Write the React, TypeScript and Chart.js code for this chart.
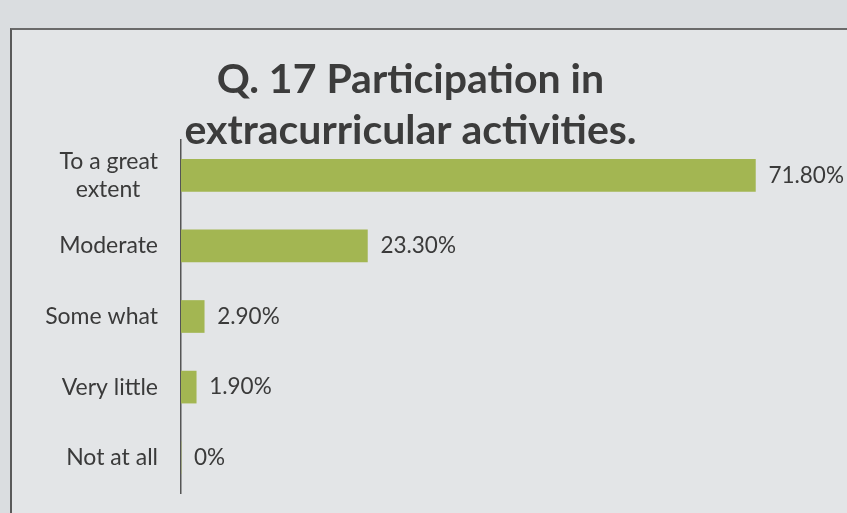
import React, { useEffect, useRef } from "react";
import { Chart, registerables } from "chart.js";

Chart.register(...registerables);

const categories: (string | string[])[] = [
  ["To a great", "extent   "],
  "Moderate",
  "Some what",
  "Very little",
  "Not at all",
];
const values: number[] = [71.8, 23.3, 2.9, 1.9, 0];
const valueLabels: string[] = ["71.80%", "23.30%", "2.90%", "1.90%", "0%"];
const titleLines: string[] = ["Q. 17 Participation in", "extracurricular activities."];

const FONT = "Lato, 'Open Sans', sans-serif";

const valueLabelPlugin = {
  id: "valueLabels",
  afterDatasetsDraw(chart: any) {
    const ctx = chart.ctx;
    const meta = chart.getDatasetMeta(0);
    ctx.save();
    ctx.font = `22.5px ${FONT}`;
    ctx.fillStyle = "#3a3a3a";
    ctx.textAlign = "left";
    ctx.textBaseline = "middle";
    meta.data.forEach((bar: any, i: number) => {
      ctx.fillText(valueLabels[i], bar.x + 13, bar.y);
    });
    ctx.restore();
  },
};

export default function App() {
  const ref = useRef<HTMLCanvasElement | null>(null);
  useEffect(() => {
    if (!ref.current) return;
    const chart = new Chart(ref.current, {
      type: "bar",
      data: {
        labels: categories,
        datasets: [
          {
            data: values,
            backgroundColor: "#a3b652",
            borderWidth: 0,
            barThickness: 32,
          },
        ],
      },
      options: {
        indexAxis: "y",
        animation: false,
        responsive: false,
        maintainAspectRatio: false,
        layout: { padding: { left: 0, right: 26, top: 0, bottom: 20 } },
        plugins: {
          legend: { display: false },
          tooltip: { enabled: false },
          title: {
            display: true,
            text: titleLines,
            color: "#3c3c3c",
            font: { family: FONT, size: 41, weight: "bold", lineHeight: 1.25 },
            padding: { top: 54, bottom: -16.5 },
          },
        },
        scales: {
          x: {
            display: false,
            min: 0,
            max: 80,
          },
          y: {
            grid: { display: false, drawTicks: false },
            border: { display: true, color: "#555555", width: 1.5 },
            ticks: {
              color: "#3a3a3a",
              font: { family: FONT, size: 23 },
              padding: 23,
            },
            afterFit(scale: any) {
              scale.width = 181;
              scale.paddingTop = 0;
              scale.paddingBottom = 0;
            },
          },
        },
      },
      plugins: [valueLabelPlugin],
    });
    return () => chart.destroy();
  }, []);

  return (
    <div
      style={{
        position: "fixed",
        left: 0,
        top: 0,
        width: 847,
        height: 513,
        background: "#dadde0",
        overflow: "hidden",
      }}
    >
      <div
        style={{
          position: "absolute",
          left: 10,
          top: 28,
          width: 900,
          height: 600,
          borderLeft: "2px solid #5a5a5a",
          borderTop: "2px solid #6a6a6a",
          background: "#e3e5e7",
        }}
      />
      <canvas ref={ref} width={847} height={513} style={{ position: "absolute", left: 0, top: 0 }} />
    </div>
  );
}
